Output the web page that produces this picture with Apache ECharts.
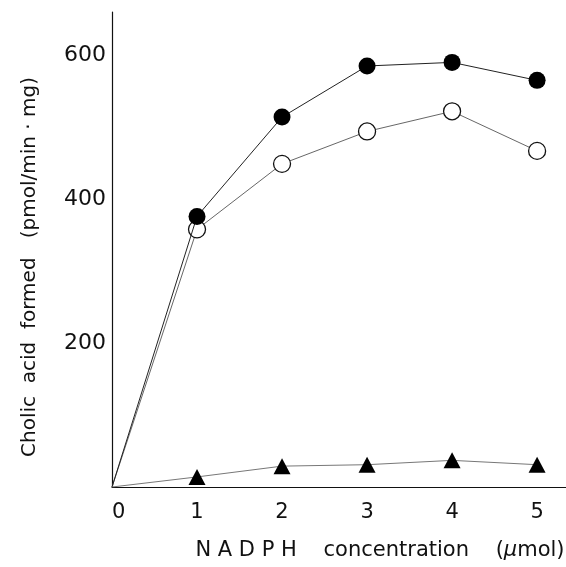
<!DOCTYPE html>
<html>
<head>
<meta charset="utf-8">
<script src="https://cdn.jsdelivr.net/npm/echarts@6/dist/echarts.min.js"></script>
<style>
  html, body { margin: 0; padding: 0; background: #fff; }
  #chart { width: 566px; height: 567px; }
</style>
</head>
<body>
<div id="chart"></div>
<script>
// NADPH concentration (umol)
var nadph = [0, 1, 2, 3, 4, 5];
// cholic acid formed (pmol/min.mg)
var filledVals = [0, 376, 514, 585, 590, 565];
var openVals = [0, 358, 449, 494, 522, 467];
var triVals = [0, 14, 29, 31, 37, 31];
var yTicks = [200, 400, 600];

// origin point is drawn as line start only, no marker
function pairs(xs, ys) {
    var out = [];
    for (var i = 0; i < xs.length; i++) {
        if (xs[i] === 0) {
            out.push({ value: [xs[i], ys[i]], symbol: 'none' });
        } else {
            out.push([xs[i], ys[i]]);
        }
    }
    return out;
}

var font = '"DejaVu Sans", "Liberation Sans", Arial, sans-serif';
var chart = echarts.init(document.getElementById('chart'));
var option = {
    animation: false,
    grid: { left: 112, right: 0, top: 12, bottom: 80 },
    xAxis: {
        type: 'value',
        min: 0,
        max: 5.34,
        interval: 1,
        axisLine: { lineStyle: { color: '#111', width: 1.2 } },
        axisTick: { show: false },
        splitLine: { show: false },
        axisLabel: {
            color: '#111',
            fontFamily: font,
            fontSize: 21,
            margin: 15,
            alignMinLabel: 'left',
            showMaxLabel: false,
            formatter: function (v) { return Number.isInteger(v) ? String(v) : ''; }
        }
    },
    yAxis: {
        type: 'value',
        min: 0,
        max: 660,
        interval: 200,
        axisLine: { show: true, lineStyle: { color: '#111', width: 1.2 } },
        axisTick: { show: false },
        splitLine: { show: false },
        axisLabel: {
            color: '#111',
            fontFamily: font,
            fontSize: 22,
            margin: 6,
            showMinLabel: false,
            showMaxLabel: false,
            formatter: function (v) { return yTicks.indexOf(v) >= 0 ? String(v) : ''; }
        }
    },
    graphic: [
        {
            type: 'text',
            x: 30,
            y: 267,
            rotation: Math.PI / 2,
            style: {
                text: 'Cholic  acid  formed   (pmol/min · mg)',
                fontFamily: font,
                fontSize: 20,
                fill: '#111',
                align: 'center',
                verticalAlign: 'middle'
            }
        },
        {
            type: 'text',
            x: 380,
            y: 551,
            style: {
                text: 'N A D P H    concentration    ({i|μ}mol)',
                fontFamily: font,
                fontSize: 21,
                fill: '#111',
                align: 'center',
                verticalAlign: 'middle',
                rich: {
                    i: { fontFamily: font, fontSize: 21, fontStyle: 'italic', fill: '#111' }
                }
            }
        }
    ],
    series: [
        {
            type: 'line',
            data: pairs(nadph, openVals),
            symbol: 'circle',
            symbolSize: 17,
            itemStyle: { color: '#fff', borderColor: '#111', borderWidth: 1.3 },
            lineStyle: { color: '#555', width: 0.9 },
            z: 2
        },
        {
            type: 'line',
            data: pairs(nadph, filledVals),
            symbol: 'circle',
            symbolSize: 17,
            itemStyle: { color: '#000', borderColor: '#000', borderWidth: 0 },
            lineStyle: { color: '#222', width: 1 },
            z: 3
        },
        {
            type: 'line',
            data: pairs(nadph, triVals),
            symbol: 'triangle',
            symbolSize: [17, 16],
            itemStyle: { color: '#000', borderWidth: 0 },
            lineStyle: { color: '#777', width: 1 },
            z: 3
        }
    ]
};
chart.setOption(option);
</script>
</body>
</html>
